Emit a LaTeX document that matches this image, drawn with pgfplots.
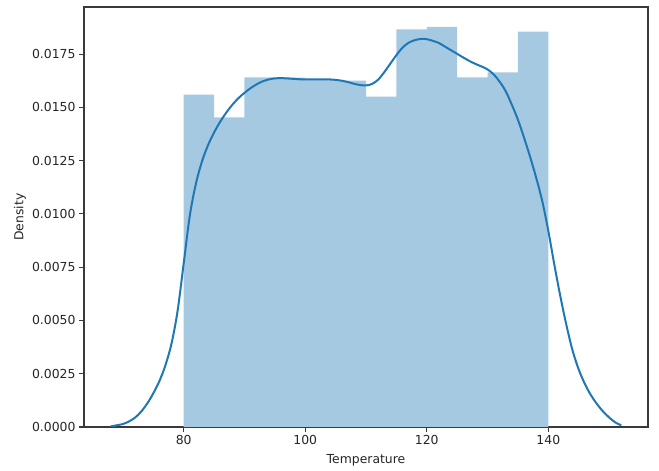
\documentclass[border=0pt]{standalone}
\usepackage{fontspec}
\setmainfont{DejaVu Sans}
\usepackage{pgfplots}
\pgfplotsset{compat=1.18}

\definecolor{tabblue}{HTML}{1F77B4}
\definecolor{barblue}{HTML}{A5C9E1}
\definecolor{spine}{HTML}{3A3A3A}
\definecolor{ticktext}{HTML}{262626}

\begin{document}
\begin{tikzpicture}
\useasboundingbox (-84pt,-44pt) rectangle (575pt,427pt);
\begin{axis}[
  scale only axis,
  width=564pt, height=420pt,
  xmin=63.6, xmax=156.4,
  ymin=0, ymax=0.01971,
  axis line style={spine, line width=1.1pt},
  tick align=outside,
  major tick length=5pt,
  tick style={spine, line width=1.1pt},
  xtick={80,100,120,140},
  ytick={0,0.0025,0.005,0.0075,0.01,0.0125,0.015,0.0175},
  xtick pos=bottom, ytick pos=left,
  scaled y ticks=false,
  /pgf/number format/assume math mode=true,
  yticklabel style={/pgf/number format/fixed, /pgf/number format/fixed zerofill,
    /pgf/number format/precision=4, font=\fontsize{12.4}{14}\selectfont, text=ticktext},
  xticklabel style={font=\fontsize{12.4}{14}\selectfont, text=ticktext},
  xlabel={Temperature}, ylabel={Density},
  every axis x label/.style={at={(axis description cs:0.5,-0.0786)}, anchor=center,
    font=\fontsize{12.4}{14}\selectfont, text=ticktext},
  every axis y label/.style={at={(axis description cs:-0.1135,0.5)}, anchor=center, rotate=90,
    font=\fontsize{12.4}{14}\selectfont, text=ticktext},
]
% histogram, bin width 5
\addplot[ybar interval, fill=barblue, draw=none] coordinates {
  (80,0.01560) (85,0.01453) (90,0.01641) (95,0.01640) (100,0.01633) (105,0.01625)
  (110,0.01550) (115,0.01866) (120,0.01878) (125,0.01641) (130,0.01664) (135,0.01855)
  (140,0.01855)
};
% kernel density estimate
\addplot[tabblue, line width=2pt, smooth, tension=0.55] coordinates {
  (68,0.00003) (69,0.00008) (70,0.00014) (71,0.00026) (72,0.00044) (73,0.00072)
  (74,0.00110) (75,0.00158) (76,0.00215) (77,0.00290) (78,0.00392) (79,0.00545)
  (80,0.00767) (81,0.00990) (82,0.01140) (83,0.01245) (84,0.01322) (85,0.01382)
  (86,0.01432) (87,0.01475) (88,0.01512) (89,0.01543) (90,0.01568) (91,0.01590)
  (92,0.01608) (93,0.01622) (94,0.01631) (95,0.01636) (96,0.01637) (97,0.01636)
  (98,0.01634) (99,0.01632) (100,0.01631) (102,0.01631) (104,0.01631) (105,0.01629)
  (106,0.01625) (107,0.01619) (108,0.01611) (109,0.01605) (110,0.01603) (111,0.01610)
  (112,0.01630) (113,0.01665) (114,0.01705) (115,0.01745) (116,0.01780) (117,0.01803)
  (118,0.01815) (119,0.01821) (120,0.01820) (121,0.01812) (122,0.01802) (123,0.01785)
  (124,0.01768) (125,0.01751) (126,0.01734) (127,0.01718) (128,0.01704) (129,0.01692)
  (130,0.01678) (131,0.01655) (132,0.01620) (133,0.01575) (134,0.01512) (135,0.01442)
  (136,0.01358) (137,0.01268) (138,0.01170) (139,0.01060) (140,0.00920) (141,0.00760)
  (142,0.00610) (143,0.00475) (144,0.00358) (145,0.00270) (146,0.00203) (147,0.00150)
  (148,0.00108) (149,0.00073) (150,0.00045) (151,0.00022) (152,0.00008)
};
\end{axis}
\end{tikzpicture}
\end{document}
